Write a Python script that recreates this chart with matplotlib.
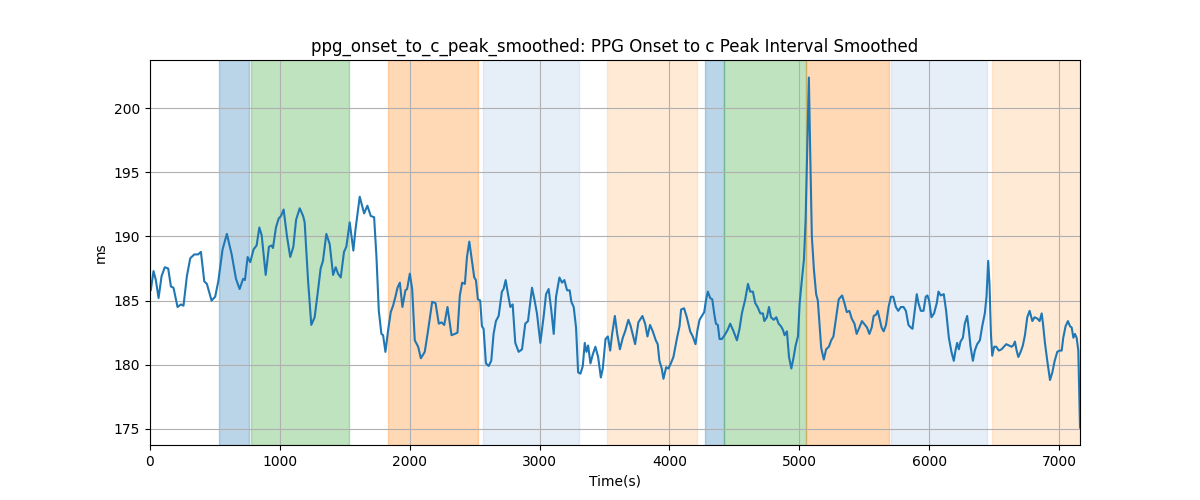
import matplotlib
matplotlib.use("Agg")
import matplotlib.pyplot as plt
import numpy as np

# time stamps (s) and smoothed PPG onset -> c peak interval (ms)
t_s = [
    0, 6, 27, 45, 66, 89, 114, 140, 161, 181, 212, 238, 258, 284, 310, 341, 371, 392, 418, 438,
    474, 502, 526, 559, 592, 629, 662, 690, 717, 731, 752, 772, 798, 821, 842, 860, 891, 916, 937, 947,
    970, 991, 1009, 1029, 1055, 1080, 1104, 1125, 1153, 1179,
    1191, 1217, 1242, 1268, 1294, 1314, 1332, 1358, 1384, 1410, 1430, 1448, 1469, 1494, 1512, 1538,
    1566, 1582, 1615, 1649, 1674, 1700, 1726, 1744, 1762, 1782, 1795, 1813, 1834, 1854, 1872, 1890,
    1906, 1924, 1944, 1967, 1980, 2001, 2019, 2039, 2065, 2086, 2116, 2142, 2173, 2199, 2224, 2245,
    2266, 2291, 2322, 2348, 2368, 2386, 2404, 2425,
    2441, 2459, 2479, 2497, 2510, 2525, 2543, 2556, 2569, 2587, 2608, 2628, 2646, 2664, 2685, 2710,
    2723, 2739, 2757, 2775, 2793, 2813, 2839, 2865, 2890, 2911, 2942, 2962, 2980, 3006, 3032, 3050,
    3070, 3091, 3109, 3127, 3153, 3173, 3191, 3212, 3232, 3245, 3263, 3281, 3297, 3315, 3333, 3348,
    3361, 3374, 3392, 3410, 3430, 3451, 3472, 3487, 3508, 3526, 3544, 3559, 3580, 3598, 3619,
    3641, 3659, 3684, 3702, 3736, 3761, 3792, 3813, 3831, 3851, 3872, 3895, 3910, 3923, 3941, 3954,
    3975, 3993, 4011, 4031, 4057, 4078, 4090, 4113, 4134, 4160, 4180, 4201, 4216, 4232, 4250, 4268,
    4283, 4296, 4314, 4330, 4345, 4358, 4373, 4386, 4404, 4425, 4448, 4468, 4494, 4520, 4540, 4558,
    4584, 4605, 4622, 4643, 4661, 4679, 4700, 4720, 4731, 4751, 4767, 4782, 4803, 4823, 4841, 4859,
    4875, 4887, 4905, 4921, 4939, 4957, 4972, 4990, 5003, 5020, 5036, 5049, 5061, 5074, 5084, 5097,
    5113, 5130, 5143, 5156, 5169, 5189, 5207, 5228, 5246, 5263, 5284, 5304, 5330, 5348, 5366, 5386,
    5404, 5425, 5442, 5463, 5483, 5506, 5522, 5540, 5558, 5573, 5591, 5604, 5616, 5634, 5650, 5668,
    5688, 5706, 5724, 5744, 5762, 5783, 5803, 5821, 5841, 5859, 5872, 5890, 5905, 5918, 5936, 5957,
    5974, 5987, 6000, 6018, 6038, 6059, 6072, 6090,
    6113, 6131, 6152, 6172, 6190, 6203, 6216, 6229, 6242, 6260, 6275, 6293, 6306, 6319, 6337, 6352,
    6370, 6391, 6409, 6429, 6442, 6455, 6465, 6476, 6486, 6501, 6517, 6537, 6558, 6576, 6594, 6614,
    6635, 6648, 6661, 6674, 6687, 6705, 6722, 6738, 6756, 6774, 6795, 6812, 6833, 6851, 6867, 6877,
    6892, 6910, 6931, 6949, 6967, 6987, 7005, 7021, 7033, 7051, 7069, 7085, 7098, 7111, 7123, 7136,
    7149, 7162,
]
interval_ms = [
    185.8, 185.8, 187.3, 186.6, 185.2, 186.9, 187.6, 187.5, 186.1, 186.0, 184.5, 184.7, 184.6, 186.9, 188.3, 188.6, 188.6, 188.8, 186.5, 186.3,
    185.0, 185.3, 186.5, 189.0, 190.2, 188.6, 186.7, 185.9, 186.7, 186.6, 188.4, 188.0, 189.0, 189.3, 190.7, 190.1, 187.0, 189.2, 189.3, 189.1,
    190.7, 191.4, 191.6, 192.1, 190.0, 188.4, 189.2, 191.3, 192.2, 191.6,
    191.1, 186.6, 183.1, 183.7, 185.8, 187.5, 188.1, 190.2, 189.4, 187.0, 187.6, 187.1, 186.8, 188.8, 189.2, 191.1,
    188.9, 190.5, 193.1, 191.8, 192.4, 191.6, 191.5, 188.4, 184.2, 182.4, 182.3, 181.0, 182.7, 184.1, 184.6, 185.3,
    186.0, 186.4, 184.5, 185.8, 185.9, 187.1, 185.9, 181.9, 181.4, 180.5, 181.0, 182.7, 184.9, 184.8, 183.2, 183.3,
    183.1, 184.5, 182.3, 182.4, 182.5, 185.4, 186.4, 186.3,
    188.4, 189.6, 188.1, 186.8, 186.6, 185.1, 185.0, 183.0, 182.8, 180.1, 179.9, 180.3, 182.4, 183.4, 183.8, 185.7,
    185.9, 186.6, 185.5, 184.5, 184.7, 181.7, 181.0, 181.2, 183.2, 183.4, 186.0, 185.0, 184.0, 181.7, 183.8, 185.5,
    185.9, 184.2, 182.4, 185.3, 186.8, 186.4, 186.6, 185.8, 185.8, 184.9, 184.5, 182.9, 179.4, 179.3, 179.9, 181.7,
    181.0, 181.5, 180.1, 180.8, 181.4, 180.6, 179.0, 179.7, 182.0, 182.2, 181.1, 182.4, 183.8, 182.4, 181.2,
    182.1, 182.6, 183.5, 183.0, 181.6, 183.3, 183.8, 183.2, 182.2, 183.1, 182.6, 181.9, 181.6, 180.3, 179.7, 178.9,
    179.8, 179.7, 180.1, 180.6, 182.0, 183.0, 184.3, 184.4, 183.7, 182.6, 182.2, 181.6, 182.7, 183.5, 183.8, 184.1,
    185.1, 185.7, 185.2, 185.1, 184.0, 183.2, 183.1, 182.0, 182.0, 182.3, 182.7, 183.2, 182.6, 181.9, 182.8, 184.0,
    185.1, 186.3, 185.7, 185.7, 184.8, 184.5, 184.0, 184.0, 183.4, 183.7, 184.5, 183.7, 183.5, 183.7, 183.2, 183.0,
    182.7, 182.3, 182.6, 180.6, 179.7, 180.6, 181.5, 182.2, 184.8, 186.6, 188.2, 191.3, 196.5, 202.4, 196.7, 190.0,
    187.4, 185.5, 185.0, 183.2, 181.3, 180.4, 181.2, 181.4, 181.9, 182.2, 183.7, 185.1, 185.4, 184.8, 184.1, 184.2,
    183.6, 183.2, 182.4, 182.9, 183.4, 183.1, 182.9, 182.4, 182.9, 183.8, 183.9, 184.2, 183.7, 182.9, 182.6, 183.1,
    184.5, 185.3, 185.3, 184.5, 184.2, 184.5, 184.5, 184.2, 183.1, 182.9, 182.8, 184.3, 185.5, 184.8, 184.2, 184.2,
    185.3, 185.4, 185.0, 183.7, 184.0, 184.8, 185.7, 185.4,
    185.5, 184.2, 182.1, 181.0, 180.3, 181.1, 181.7, 181.2, 181.8, 182.1, 183.2, 183.8, 182.7, 181.4, 180.3, 181.1,
    181.6, 181.9, 183.0, 184.0, 185.3, 188.1, 186.3, 182.4, 180.7, 181.4, 181.4, 181.1, 181.2, 181.4, 181.6, 181.5,
    181.4, 181.5, 181.8, 181.1, 180.6, 181.0, 181.5, 182.3, 183.7, 184.2, 183.4, 183.7, 183.6, 183.4, 184.0, 183.2,
    181.7, 180.3, 178.8, 179.4, 180.3, 181.0, 181.1, 181.1, 182.1, 183.0, 183.4, 183.0, 182.9, 182.1, 182.4, 182.1,
    181.1, 175.1,
]

# shaded phases (tab20 pairs, all drawn at alpha 0.3)
span_start = [530, 775, 1831, 2563, 3520, 4275, 4419, 5049, 5707, 6488]
span_end = [765, 1530, 2525, 3301, 4214, 4419, 5049, 5692, 6442, 7162]
span_color = ["#1f77b4", "#2ca02c", "#ff7f0e", "#aec7e8", "#ffbb78",
              "#1f77b4", "#2ca02c", "#ff7f0e", "#aec7e8", "#ffbb78"]

fig, ax = plt.subplots(figsize=(12, 5), dpi=100)
for x0, x1, c in zip(span_start, span_end, span_color):
    ax.axvspan(x0, x1, color=c, alpha=0.3)
ax.plot(t_s, interval_ms, color="C0", lw=1.5)
ax.set_xlim(0, t_s[-1])
ax.grid(True)
ax.set_title("ppg_onset_to_c_peak_smoothed: PPG Onset to c Peak Interval Smoothed")
ax.set_xlabel("Time(s)")
ax.set_ylabel("ms")
fig.savefig("out.png", dpi=100)
